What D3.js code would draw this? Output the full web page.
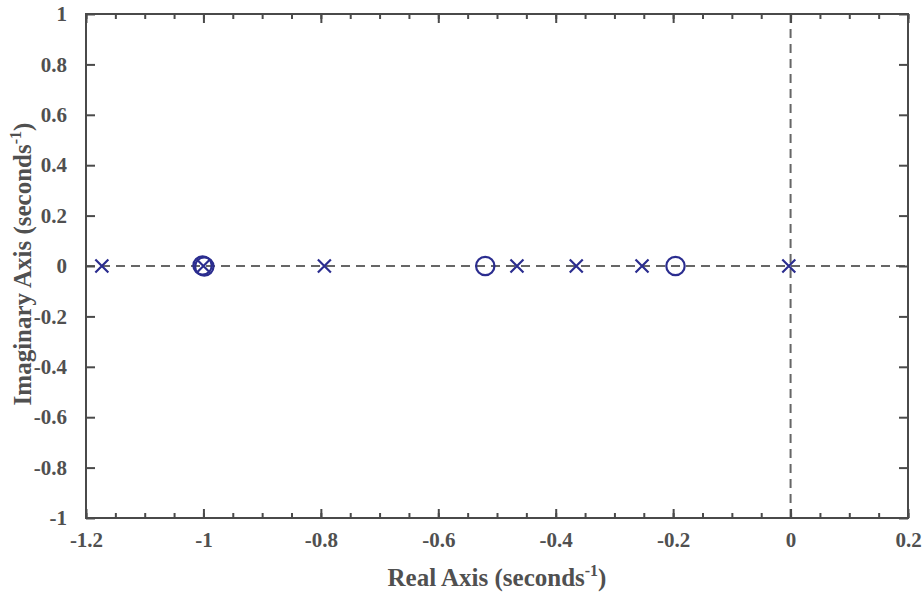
<!DOCTYPE html>
<html><head><meta charset="utf-8">
<script src="https://cdn.jsdelivr.net/npm/d3@7"></script>
<style>body{margin:0;background:#fff}svg{display:block}</style>
</head><body>
<script>
// Data: poles (x markers) and zeros (o markers), [real, imag]
const poles = [[-1.173, 0], [-1.0, 0], [-0.794, 0], [-0.466, 0], [-0.365, 0], [-0.253, 0], [-0.003, 0]];
const zeros = [[-1.0015, 0.002], [-0.9985, -0.002], [-0.520, 0], [-0.196, 0]];
const xTicks = [-1.2, -1, -0.8, -0.6, -0.4, -0.2, 0, 0.2];
const yTicks = [-1, -0.8, -0.6, -0.4, -0.2, 0, 0.2, 0.4, 0.6, 0.8, 1];
const xMinorTicks = d3.range(-1.2, 0.2001, 0.05).map(v => +v.toFixed(2));
const xTitle = "Real Axis (seconds";
const yTitle = "Imaginary Axis (seconds";

const W = 924, H = 592;
const m = {l: 86, r: 16, t: 14, b: 74};
const svg = d3.select("body").append("svg").attr("width", W).attr("height", H);
const x = d3.scaleLinear().domain([-1.2, 0.2]).range([m.l, W - m.r]);
const y = d3.scaleLinear().domain([-1, 1]).range([H - m.b, m.t]);
const axisCol = "#4a4a4a", textCol = "#505050", mk = "#2b2d8f";
const font = "'Liberation Serif','Times New Roman',serif";

// dashed reference lines
svg.append("line").attr("x1", x(-1.2)).attr("x2", x(0.2)).attr("y1", y(0)).attr("y2", y(0))
  .attr("stroke", "#666").attr("stroke-width", 2).attr("stroke-dasharray", "9,6");
svg.append("line").attr("x1", x(0)).attr("x2", x(0)).attr("y1", y(1)).attr("y2", y(-1))
  .attr("stroke", "#666").attr("stroke-width", 2).attr("stroke-dasharray", "9,6");

// axes (ticks inward on all four sides)
function styleAxis(g) {
  g.select(".domain").remove();
  g.selectAll("line").attr("stroke", axisCol).attr("stroke-width", 2);
  g.selectAll("text").attr("fill", textCol).attr("font-family", font).attr("font-weight", "bold").attr("font-size", 21);
}
const fmt = d => String(+d.toFixed(1));
svg.append("g").attr("transform", `translate(0,${y(-1)})`)
  .call(d3.axisBottom(x).tickValues(xMinorTicks).tickSize(-5).tickFormat("")).call(styleAxis);
svg.append("g").attr("transform", `translate(0,${y(1)})`)
  .call(d3.axisTop(x).tickValues(xMinorTicks).tickSize(-5).tickFormat("")).call(styleAxis);
svg.append("g").attr("transform", `translate(0,${y(-1)})`)
  .call(d3.axisBottom(x).tickValues(xTicks).tickSize(-9).tickPadding(14).tickFormat(fmt)).call(styleAxis);
svg.append("g").attr("transform", `translate(0,${y(1)})`)
  .call(d3.axisTop(x).tickValues(xTicks).tickSize(-9).tickFormat("")).call(styleAxis);
svg.append("g").attr("transform", `translate(${x(-1.2)},0)`)
  .call(d3.axisLeft(y).tickValues(yTicks).tickSize(-9).tickPadding(19).tickFormat(fmt)).call(styleAxis);
svg.append("g").attr("transform", `translate(${x(0.2)},0)`)
  .call(d3.axisRight(y).tickValues(yTicks).tickSize(-9).tickFormat("")).call(styleAxis);

// box
svg.append("rect").attr("x", x(-1.2)).attr("y", y(1)).attr("width", x(0.2) - x(-1.2)).attr("height", y(-1) - y(1))
  .attr("fill", "none").attr("stroke", axisCol).attr("stroke-width", 2);

// zeros
svg.selectAll("circle.z").data(zeros).join("circle").attr("class", "z")
  .attr("cx", d => x(d[0])).attr("cy", d => y(d[1])).attr("r", 9.2)
  .attr("fill", "none").attr("stroke", mk).attr("stroke-width", 2.2);
// poles
const s = 6.5;
svg.selectAll("path.p").data(poles).join("path").attr("class", "p")
  .attr("d", d => { const cx = x(d[0]), cy = y(d[1]);
    return `M${cx - s},${cy - s}L${cx + s},${cy + s}M${cx - s},${cy + s}L${cx + s},${cy - s}`; })
  .attr("stroke", mk).attr("stroke-width", 2.2).attr("fill", "none");

// titles
const xt = svg.append("text").attr("x", (x(-1.2) + x(0.2)) / 2).attr("y", 586).attr("text-anchor", "middle")
  .attr("font-family", font).attr("font-weight", "bold").attr("font-size", 25).attr("fill", textCol);
xt.append("tspan").text(xTitle);
xt.append("tspan").attr("dy", -10).attr("font-size", 16).text("-1");
xt.append("tspan").attr("dy", 10).text(")");
const yt = svg.append("text").attr("transform", `translate(31,${y(0) - 2}) rotate(-90)`).attr("text-anchor", "middle")
  .attr("font-family", font).attr("font-weight", "bold").attr("font-size", 25).attr("fill", textCol);
yt.append("tspan").text(yTitle);
yt.append("tspan").attr("dy", -10).attr("font-size", 16).text("-1");
yt.append("tspan").attr("dy", 10).text(")");
</script>
</body></html>
